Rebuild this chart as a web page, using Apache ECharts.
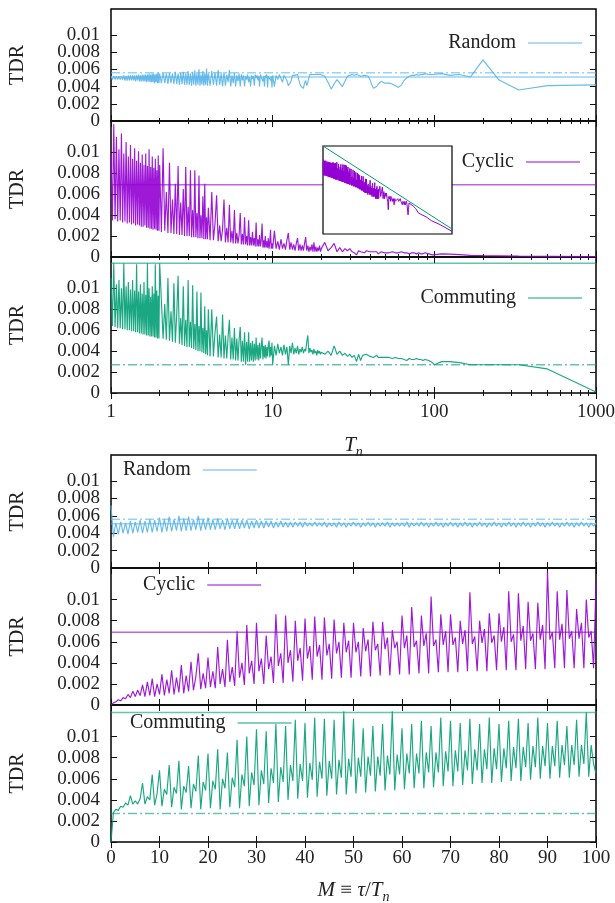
<!DOCTYPE html>
<html><head><meta charset="utf-8">
<script src="https://cdn.jsdelivr.net/npm/echarts@6/dist/echarts.min.js"></script>
<style>html,body{margin:0;padding:0;background:#fff}#c{width:615px;height:903px}</style>
</head><body><div id="c"></div>
<script>
// ---------------- DATA ----------------
// Upper block: x = T_n (log axis)
const topT = [
1.00,1.02,1.04,1.06,1.08,1.10,1.12,1.14,1.16,1.18,1.20,1.22,1.24,1.26,1.28,1.30,1.32,1.34,1.36,1.38,
1.40,1.42,1.44,1.46,1.48,1.50,1.52,1.54,1.56,1.58,1.60,1.62,1.64,1.66,1.68,1.70,1.72,1.74,1.76,1.78,
1.80,1.82,1.84,1.86,1.88,1.90,1.92,1.94,1.96,1.98,2.00,
2.05,2.10,2.15,2.20,2.25,2.30,2.35,2.40,2.45,2.50,2.55,2.60,2.65,2.70,2.75,2.80,2.85,2.90,2.95,3.00,
3.05,3.10,3.15,3.20,3.25,3.30,3.35,3.40,3.45,3.50,3.55,3.60,3.65,3.70,3.75,3.80,3.85,3.90,3.95,4.00,
4.1,4.2,4.3,4.4,4.5,4.6,4.7,4.8,4.9,5.0,5.1,5.2,5.3,5.4,5.5,5.6,5.7,5.8,5.9,6.0,
6.1,6.2,6.3,6.4,6.5,6.6,6.7,6.8,6.9,7.0,7.1,7.2,7.3,7.4,7.5,7.6,7.7,7.8,7.9,8.0,
8.1,8.2,8.3,8.4,8.5,8.6,8.7,8.8,8.9,9.0,9.1,9.2,9.3,9.4,9.5,9.6,9.7,9.8,9.9,10.0,
10.25,10.5,10.75,11,11.25,11.5,11.75,12,12.25,12.5,12.75,13,13.25,13.5,13.75,14,14.25,14.5,14.75,15,
15.25,15.5,15.75,16,16.25,16.5,16.75,17,17.25,17.5,17.75,18,18.25,18.5,18.75,19,19.25,19.5,19.75,20,
21,22,23,24,25,26,27,28,29,30,31,32,33,34,35,36,37,38,39,40,41,42,43,44,45,46,47,48,49,50,
52.5,55,57.5,60,62.5,65,67.5,70,72.5,75,77.5,80,82.5,85,87.5,90,92.5,95,97.5,100,
111,125,143,167,200,250,333,500,1000
];
const randomTop = [
.0052,.0048,.0052,.0048,.0052,.0048,.0052,.0048,.0052,.0048,.0053,.0047,.0052,.0047,.0053,.0047,.0053,.0047,.0053,.0047,
.0053,.0046,.0053,.0047,.0054,.0046,.0053,.0046,.0054,.0046,.0054,.0046,.0054,.0045,.0054,.0046,.0055,.0045,.0054,.0045,
.0055,.0045,.0055,.0044,.0054,.0045,.0055,.0044,.0056,.0044,.0055,
.0044,.0056,.0044,.0055,.0043,.0056,.0044,.0055,.0043,.0057,.0043,.0055,.0042,.0056,.0043,.0057,.0042,.0055,.0042,.0058,
.0042,.0055,.0041,.0057,.0042,.0059,.0041,.0055,.0042,.0060,.0041,.0054,.0042,.0058,.0041,.0055,.0042,.0061,.0041,.0055,
.0041,.0058,.0042,.0056,.0041,.0059,.0042,.0055,.0040,.0057,.0041,.0054,.0045,.0059,.0040,.0053,.0044,.0056,.0040,.0053,
.0046,.0055,.0040,.0054,.0047,.0053,.0040,.0052,.0048,.0054,.0045,.0051,.0040,.0053,.0049,.0052,.0041,.0054,.0050,.0053,
.0047,.0052,.0040,.0054,.0051,.0053,.0046,.0052,.0040,.0053,.0050,.0054,.0039,.0052,.0051,.0053,.0047,.0052,.0039,.0053,
.0040,.0053,.0048,.0054,.0052,.0045,.0053,.0054,.0047,.0041,.0039,.0046,.0053,.0054,.0053,.0052,.0054,.0048,.0043,.0040,
.0042,.0038,.0044,.0047,.0041,.0045,.0050,.0054,.0053,.0054,.0055,.0053,.0054,.0052,.0053,.0054,.0053,.0053,.0054,.0053,
.0052,.0045,.0037,.0043,.0048,.0044,.0040,.0046,.0052,.0053,.0054,.0053,.0054,.0053,.0052,.0054,.0053,.0054,.0052,.0048,
.0042,.0038,.0037,.0040,.0043,.0045,.0046,.0045,.0044,.0044,
.0044,.0043,.0041,.0039,.0042,.0047,.0050,.0052,.0053,.0053,.0054,.0053,.0054,.0054,.0055,.0054,.0054,.0055,.0054,.0054,
.0055,.0053,.0054,.0051,.0071,.0048,.0036,.0041,.0042
];
const cyclicTop = [
.0098,.0035,.0127,.0036,.0115,.0034,.0103,.0035,.0118,.0033,.0099,.0034,.0110,.0032,.0096,.0033,.0107,.0031,.0094,.0032,
.0104,.0030,.0092,.0031,.0101,.0030,.0090,.0029,.0098,.0029,.0088,.0030,.0099,.0028,.0087,.0028,.0103,.0027,.0086,.0027,
.0096,.0026,.0085,.0027,.0094,.0026,.0083,.0025,.0097,.0025,.0088,
.0024,.0104,.0025,.0062,.0023,.0090,.0023,.0055,.0022,.0070,.0022,.0087,.0021,.0052,.0021,.0065,.0020,.0086,.0020,.0048,
.0020,.0083,.0019,.0045,.0019,.0083,.0019,.0042,.0018,.0078,.0018,.0040,.0018,.0058,.0017,.0070,.0017,.0038,.0017,.0047,
.0016,.0062,.0016,.0032,.0059,.0015,.0030,.0015,.0027,.0055,.0014,.0028,.0014,.0050,.0014,.0025,.0013,.0045,.0013,.0023,
.0013,.0021,.0042,.0012,.0022,.0012,.0038,.0012,.0020,.0011,.0035,.0011,.0019,.0011,.0024,.0011,.0018,.0010,.0033,.0010,
.0017,.0010,.0021,.0010,.0016,.0032,.0009,.0016,.0009,.0020,.0009,.0015,.0009,.0018,.0008,.0014,.0026,.0008,.0013,.0008,
.0025,.0008,.0015,.0007,.0017,.0008,.0013,.0007,.0016,.0023,.0007,.0014,.0007,.0012,.0006,.0013,.0018,.0006,.0012,.0006,
.0011,.0006,.0013,.0019,.0006,.0011,.0005,.0010,.0006,.0012,.0005,.0014,.0005,.0010,.0005,.0009,.0006,.0011,.0005,.0008,
.0014,.0006,.0009,.0013,.0005,.0009,.0005,.0008,.0006,.0008,.0005,.0004,.0002,.0006,.0005,.0006,.0004,.0006,.0005,.0005,
.0004,.0005,.0004,.0005,.0003,.0004,.0005,.0004,.0004,.0004,
.0004,.0005,.0004,.0004,.0005,.0004,.0004,.0003,.0004,.0004,.0003,.0004,.0003,.0003,.0004,.0003,.0003,.00013,.0002,.00035,
.0003,.00027,.00022,.00015,.00013,.00011,.00008,.00006,.000033
];
const commutingTop = [
.0110,.0064,.0124,.0063,.0104,.0062,.0108,.0062,.0100,.0061,.0124,.0061,.0102,.0060,.0106,.0060,.0099,.0059,.0108,.0059,
.0098,.0058,.0123,.0058,.0097,.0057,.0104,.0057,.0095,.0056,.0106,.0056,.0094,.0055,.0124,.0055,.0100,.0054,.0092,.0054,
.0102,.0054,.0095,.0053,.0123,.0053,.0098,.0052,.0093,.0052,.0124,
.0088,.0052,.0085,.0051,.0110,.0050,.0078,.0049,.0105,.0048,.0075,.0112,.0047,.0072,.0046,.0102,.0045,.0070,.0044,.0108,
.0044,.0068,.0043,.0103,.0042,.0066,.0041,.0097,.0040,.0064,.0040,.0096,.0039,.0062,.0038,.0083,.0037,.0060,.0036,.0080,
.0035,.0080,.0035,.0058,.0073,.0034,.0056,.0034,.0075,.0033,.0055,.0033,.0054,.0070,.0032,.0053,.0032,.0062,.0031,.0052,
.0031,.0051,.0063,.0030,.0050,.0030,.0058,.0027,.0049,.0030,.0058,.0030,.0048,.0031,.0050,.0030,.0047,.0031,.0053,.0032,
.0046,.0031,.0048,.0033,.0045,.0053,.0032,.0045,.0034,.0046,.0033,.0044,.0035,.0046,.0050,.0034,.0044,.0036,.0048,.0027,
.0045,.0036,.0047,.0038,.0044,.0036,.0046,.0037,.0044,.0027,.0045,.0038,.0048,.0037,.0043,.0038,.0045,.0037,.0042,.0039,
.0044,.0038,.0042,.0040,.0049,.0055,.0038,.0043,.0039,.0041,.0037,.0042,.0038,.0040,.0036,.0041,.0038,.0040,.0037,.0039,
.0037,.0040,.0036,.0045,.0037,.0040,.0036,.0038,.0035,.0037,.0034,.0036,.0030,.0037,.0031,.0036,.0035,.0037,.0036,.0035,
.0036,.0034,.0035,.0036,.0034,.0035,.0034,.0035,.0034,.0034,
.0034,.0033,.0034,.0033,.0033,.0032,.0031,.0033,.0032,.0032,.0033,.0032,.0032,.0031,.0032,.0031,.0031,.0030,.0029,.0027,
.0030,.0030,.0029,.0027,.0027,.0027,.0027,.0023,.0001
];

// Lower block: x = M = tau / T_n (linear axis)
const botM = [
0,0.5,1,1.5,2,2.5,3,3.5,4,4.5,5,5.5,6,6.5,7,7.5,8,8.5,9,9.5,
10,10.5,11,11.5,12,12.5,13,13.5,14,14.5,15,15.5,16,16.5,17,17.5,18,18.5,19,19.5,
20,20.5,21,21.5,22,22.5,23,23.5,24,24.5,25,25.5,26,26.5,27,27.5,28,28.5,29,29.5,
30,30.5,31,31.5,32,32.5,33,33.5,34,34.5,35,35.5,36,36.5,37,37.5,38,38.5,39,39.5,
40,40.5,41,41.5,42,42.5,43,43.5,44,44.5,45,45.5,46,46.5,47,47.5,48,48.5,49,49.5,
50,50.5,51,51.5,52,52.5,53,53.5,54,54.5,55,55.5,56,56.5,57,57.5,58,58.5,59,59.5,
60,60.5,61,61.5,62,62.5,63,63.5,64,64.5,65,65.5,66,66.5,67,67.5,68,68.5,69,69.5,
70,70.5,71,71.5,72,72.5,73,73.5,74,74.5,75,75.5,76,76.5,77,77.5,78,78.5,79,79.5,
80,80.5,81,81.5,82,82.5,83,83.5,84,84.5,85,85.5,86,86.5,87,87.5,88,88.5,89,89.5,
90,90.5,91,91.5,92,92.5,93,93.5,94,94.5,95,95.5,96,96.5,97,97.5,98,98.5,99,99.5,
100
];
const randomBot = [
.0072,.0036,.0052,.0039,.0053,.0040,.0052,.0039,.0054,.0040,.0053,.0041,.0055,.0040,.0054,.0041,.0056,.0041,.0055,.0042,
.0058,.0041,.0056,.0042,.0059,.0042,.0056,.0043,.0060,.0042,.0057,.0043,.0059,.0043,.0056,.0044,.0060,.0043,.0056,.0044,
.0058,.0044,.0056,.0044,.0057,.0045,.0055,.0044,.0057,.0045,.0055,.0045,.0056,.0045,.0055,.0046,.0055,.0045,.0054,.0046,
.0055,.0046,.0054,.0046,.0054,.0047,.0054,.0046,.0053,.0047,.0054,.0047,.0053,.0047,.0053,.0047,.0053,.0048,.0053,.0047,
.0053,.0048,.0052,.0048,.0053,.0048,.0052,.0048,.0053,.0047,.0052,.0048,.0052,.0047,.0053,.0048,.0052,.0047,.0052,.0048,
.0053,.0048,.0052,.0047,.0052,.0048,.0053,.0048,.0052,.0047,.0052,.0048,.0052,.0048,.0053,.0047,.0052,.0048,.0052,.0048,
.0052,.0048,.0053,.0047,.0052,.0048,.0052,.0048,.0053,.0048,.0052,.0047,.0052,.0048,.0053,.0048,.0052,.0047,.0052,.0048,
.0053,.0048,.0052,.0047,.0052,.0048,.0053,.0048,.0052,.0047,.0052,.0048,.0053,.0048,.0052,.0047,.0052,.0048,.0053,.0048,
.0052,.0047,.0052,.0048,.0053,.0048,.0052,.0047,.0052,.0048,.0053,.0048,.0052,.0047,.0052,.0048,.0053,.0048,.0052,.0047,
.0052,.0048,.0053,.0048,.0052,.0047,.0052,.0048,.0053,.0048,.0052,.0047,.0052,.0048,.0053,.0048,.0052,.0047,.0052,.0048,
.0052
];
const cyclicBot = [
0,.0002,.0003,.0005,.0004,.0007,.0006,.0010,.0007,.0013,.0008,.0014,.0009,.0019,.0008,.0022,.0009,.0025,.0008,.0020,
.0010,.0029,.0009,.0024,.0011,.0033,.0010,.0026,.0012,.0038,.0011,.0028,.0013,.0041,.0014,.0027,.0049,.0015,.0030,.0016,
.0045,.0017,.0032,.0016,.0055,.0020,.0034,.0017,.0062,.0022,.0036,.0018,.0070,.0026,.0040,.0019,.0076,.0030,.0042,.0020,
.0078,.0032,.0044,.0020,.0066,.0034,.0046,.0021,.0086,.0037,.0049,.0021,.0085,.0040,.0052,.0022,.0080,.0042,.0054,.0023,
.0082,.0044,.0056,.0024,.0084,.0046,.0057,.0024,.0083,.0047,.0058,.0025,.0081,.0049,.0060,.0026,.0078,.0050,.0061,.0026,
.0078,.0050,.0060,.0027,.0073,.0051,.0062,.0027,.0079,.0052,.0058,.0028,.0079,.0053,.0064,.0028,.0071,.0054,.0060,.0029,
.0085,.0054,.0066,.0029,.0093,.0055,.0061,.0030,.0085,.0056,.0068,.0030,.0103,.0056,.0062,.0031,.0086,.0057,.0070,.0031,
.0086,.0057,.0064,.0031,.0080,.0058,.0071,.0032,.0107,.0058,.0065,.0032,.0080,.0059,.0072,.0032,.0087,.0059,.0066,.0033,
.0087,.0060,.0074,.0033,.0108,.0060,.0067,.0033,.0106,.0061,.0075,.0034,.0098,.0061,.0068,.0034,.0097,.0062,.0076,.0034,
.0127,.0062,.0069,.0035,.0108,.0062,.0077,.0035,.0109,.0063,.0070,.0035,.0091,.0063,.0078,.0035,.0100,.0064,.0070,.0035,
.0116
];
const commutingBot = [
0,.0028,.0031,.0030,.0034,.0033,.0037,.0035,.0044,.0036,.0039,.0036,.0041,.0056,.0036,.0043,.0040,.0064,.0035,.0046,
.0068,.0034,.0050,.0045,.0073,.0033,.0052,.0046,.0077,.0031,.0053,.0047,.0072,.0032,.0055,.0048,.0082,.0031,.0057,.0049,
.0084,.0032,.0058,.0050,.0088,.0031,.0060,.0051,.0085,.0033,.0061,.0052,.0097,.0032,.0064,.0053,.0100,.0034,.0066,.0054,
.0107,.0035,.0068,.0055,.0105,.0037,.0070,.0056,.0112,.0038,.0071,.0057,.0110,.0040,.0073,.0058,.0116,.0041,.0074,.0058,
.0113,.0042,.0075,.0059,.0118,.0043,.0076,.0060,.0117,.0044,.0077,.0060,.0116,.0045,.0078,.0061,.0124,.0045,.0079,.0062,
.0117,.0046,.0080,.0062,.0108,.0047,.0081,.0063,.0110,.0048,.0081,.0063,.0112,.0049,.0082,.0064,.0124,.0049,.0083,.0064,
.0108,.0050,.0084,.0065,.0112,.0051,.0084,.0065,.0115,.0051,.0085,.0066,.0110,.0052,.0085,.0066,.0118,.0053,.0086,.0067,
.0115,.0053,.0087,.0067,.0113,.0054,.0087,.0068,.0117,.0055,.0088,.0068,.0112,.0056,.0088,.0069,.0118,.0056,.0089,.0069,
.0112,.0057,.0089,.0070,.0115,.0058,.0090,.0070,.0117,.0058,.0090,.0071,.0113,.0059,.0091,.0071,.0118,.0060,.0091,.0072,
.0113,.0060,.0091,.0072,.0115,.0061,.0092,.0073,.0110,.0061,.0092,.0073,.0116,.0062,.0092,.0074,.0123,.0062,.0092,.0074,
.0065
];

// Horizontal reference levels
const refRandomSolid = 0.0051;
const refRandomDashDot = 0.0056;
const refCyclicSolid = 0.0069;
const refCommutingSolidTop = 0.0124;
const refCommutingSolidBot = 0.0123;
const refCommutingDashDot = 0.0027;

// Inset (log-log) reference power law
const insetRefT = [1, 1000];
const insetRefV = [0.04, 0.00004];

// Axis ticks and tick labels
const yTickValues = [0, 0.002, 0.004, 0.006, 0.008, 0.01];
const yLabelsEven = [0, 0.004, 0.008];
const yLabelsOdd = [0.002, 0.006, 0.01];
const logMajorTicks = [1, 10, 100, 1000];
const logMinorTicks = [2,3,4,5,6,7,8,9,20,30,40,50,60,70,80,90,200,300,400,500,600,700,800,900];
const linTicks = [0,10,20,30,40,50,60,70,80,90,100];
const topDomain = [1, 1000];
const botDomain = [0, 100];
const yMax = 0.013;

// ---------------- CHART ----------------
const FONT = '"Liberation Serif", "Times New Roman", serif';
const TXT = '#222';
const COL = { Random: '#56b4e9', Cyclic: '#9400d3', Commuting: '#009e73' };
const LEFT = 111, RIGHT = 19;
const DASHDOT = [9, 3, 2, 3];

const grids = [], xAxes = [], yAxes = [], series = [], legends = [];
const yLabel = v => (v === 0 ? '0' : String(parseFloat(Number(v).toFixed(3))));

const subRich = {
  i: { fontFamily: FONT, fontStyle: 'italic', fontSize: 21, color: TXT },
  r: { fontFamily: FONT, fontSize: 21, color: TXT },
  s: { fontFamily: FONT, fontStyle: 'italic', fontSize: 14, color: TXT, padding: [14, 0, 0, 0] }
};

const panels = [
  { top: 9,   height: 112, log: true,  name: 'Random',    xs: topT, ys: randomTop,
    refs: [[refRandomSolid, 'solid'], [refRandomDashDot, 'dashdot']],
    legend: { right: 33, top: 33 } },
  { top: 121, height: 136, log: true,  name: 'Cyclic',    xs: topT, ys: cyclicTop,
    refs: [[refCyclicSolid, 'solid']],
    legend: { right: 35, top: 152 } },
  { top: 257, height: 136, log: true,  name: 'Commuting', xs: topT, ys: commutingTop,
    refs: [[refCommutingSolidTop, 'solid'], [refCommutingDashDot, 'dashdot']],
    legend: { right: 33, top: 288 },
    xName: '{i|T}{s|n}', labelMargin: 10, nameGap: 38 },
  { top: 455, height: 113, log: false, name: 'Random',    xs: botM, ys: randomBot,
    refs: [[refRandomSolid, 'solid'], [refRandomDashDot, 'dashdot']],
    legend: { left: 123, top: 460 } },
  { top: 568, height: 137, log: false, name: 'Cyclic',    xs: botM, ys: cyclicBot,
    refs: [[refCyclicSolid, 'solid']],
    legend: { left: 143, top: 575 } },
  { top: 705, height: 137, log: false, name: 'Commuting', xs: botM, ys: commutingBot,
    refs: [[refCommutingSolidBot, 'solid'], [refCommutingDashDot, 'dashdot']],
    legend: { left: 130, top: 713 },
    xName: '{i|M} {r|\u2261} {i|\u03c4}{r|/}{i|T}{s|n}', labelMargin: 7, nameGap: 34 }
];

function tickAxis(base, pos, values, len, labels, p) {
  return Object.assign({}, base, {
    position: pos,
    axisLine: { show: false },
    splitLine: { show: false },
    axisTick: { show: true, inside: true, length: len, customValues: values, lineStyle: { color: '#111', width: 1 } },
    axisLabel: labels ? { show: true, customValues: values, formatter: v => String(v), margin: p.labelMargin,
                          showMinLabel: true, showMaxLabel: true, hideOverlap: false,
                          fontFamily: FONT, fontSize: 19, color: TXT } : { show: false },
    name: labels ? p.xName : '',
    nameLocation: 'middle',
    nameGap: labels ? p.nameGap : 0,
    nameTextStyle: { fontFamily: FONT, fontSize: 21, color: TXT, rich: subRich }
  });
}

function yLabelAxis(ybase, values) {
  return Object.assign({}, ybase, {
    position: 'left',
    axisTick: { show: false },
    axisLabel: { show: true, customValues: values, formatter: yLabel, margin: 11,
                 showMinLabel: true, showMaxLabel: true, hideOverlap: false,
                 fontFamily: FONT, fontSize: 19, color: TXT }
  });
}

panels.forEach(p => {
  const gi = grids.length;
  grids.push({ left: LEFT, right: RIGHT, top: p.top, height: p.height, show: true,
               borderColor: '#000', borderWidth: 1.5, backgroundColor: 'transparent',
               containLabel: false, outerBoundsMode: 'none' });
  const dom = p.log ? topDomain : botDomain;
  const base = { gridIndex: gi, type: p.log ? 'log' : 'value', min: dom[0], max: dom[1] };
  if (p.log) base.logBase = 10;
  const majors = p.log ? logMajorTicks : linTicks;
  const showX = !!p.xName;
  const xMain = xAxes.length;
  xAxes.push(tickAxis(base, 'bottom', majors, 6, showX, p));
  xAxes.push(tickAxis(base, 'top', majors, 6, false, p));
  if (p.log) {
    xAxes.push(tickAxis(base, 'bottom', logMinorTicks, 3, false, p));
    xAxes.push(tickAxis(base, 'top', logMinorTicks, 3, false, p));
  }
  const yMain = yAxes.length;
  const ybase = { gridIndex: gi, type: 'value', min: 0, max: yMax, splitLine: { show: false }, axisLine: { show: false } };
  // main left axis: ticks + axis title
  yAxes.push(Object.assign({}, ybase, {
    position: 'left',
    axisTick: { show: true, inside: true, length: 6, customValues: yTickValues, lineStyle: { color: '#111' } },
    axisLabel: { show: false },
    name: 'TDR', nameLocation: 'middle', nameGap: 83, nameRotate: 90,
    nameTextStyle: { fontFamily: FONT, fontSize: 20, color: TXT }
  }));
  // tick labels split over two overlaid axes so none is dropped as overlapping
  yAxes.push(yLabelAxis(ybase, yLabelsEven));
  yAxes.push(yLabelAxis(ybase, yLabelsOdd));
  yAxes.push(Object.assign({}, ybase, {
    position: 'right',
    axisTick: { show: true, inside: true, length: 6, customValues: yTickValues, lineStyle: { color: '#111' } },
    axisLabel: { show: false }
  }));
  const color = COL[p.name];
  series.push({
    type: 'line', name: p.name, xAxisIndex: xMain, yAxisIndex: yMain,
    data: p.xs.map((x, i) => [x, p.ys[i]]),
    showSymbol: false, symbol: 'none', silent: true, z: 3,
    itemStyle: { color: color },
    lineStyle: { width: 1.15, color: color, opacity: 0.9 }
  });
  p.refs.forEach(([v, kind], k) => {
    series.push({
      type: 'line', name: p.name + ' level ' + (k + 1), xAxisIndex: xMain, yAxisIndex: yMain,
      data: [[dom[0], v], [dom[1], v]],
      showSymbol: false, symbol: 'none', silent: true, z: 2,
      lineStyle: { width: 1.5, color: color, opacity: 0.6, type: kind === 'dashdot' ? DASHDOT : 'solid' }
    });
  });
  legends.push(Object.assign({
    data: [p.name], orient: 'horizontal', align: 'right', icon: 'rect',
    itemWidth: 54, itemHeight: 1.5, itemGap: 0, padding: 0, selectedMode: false,
    itemStyle: { opacity: 0.65 },
    textStyle: { fontFamily: FONT, fontSize: 20, color: TXT, padding: [0, 7, 0, 0] }
  }, p.legend));
});

// Inset: log-log view of the cyclic data with a power-law guide
const insetGrid = grids.length;
grids.push({ left: 323, top: 146, width: 129, height: 88, show: true, z: 10,
             borderColor: '#000', borderWidth: 1.2, backgroundColor: '#fff',
             containLabel: false, outerBoundsMode: 'none' });
const insetX = xAxes.length;
xAxes.push({ gridIndex: insetGrid, type: 'log', logBase: 10, min: 1, max: 1000, show: false });
const insetY = yAxes.length;
yAxes.push({ gridIndex: insetGrid, type: 'log', logBase: 10, min: 0.0000264, max: 0.04, show: false });
series.push({
  type: 'line', name: 'Cyclic inset', xAxisIndex: insetX, yAxisIndex: insetY,
  data: topT.map((t, i) => [t, cyclicTop[i]]),
  showSymbol: false, symbol: 'none', silent: true, z: 12,
  lineStyle: { width: 1, color: COL.Cyclic }
});
series.push({
  type: 'line', name: 'Guide inset', xAxisIndex: insetX, yAxisIndex: insetY,
  data: insetRefT.map((t, i) => [t, insetRefV[i]]),
  showSymbol: false, symbol: 'none', silent: true, z: 11,
  lineStyle: { width: 1, color: COL.Commuting }
});

const chart = echarts.init(document.getElementById('c'), null, { renderer: 'canvas', width: 615, height: 903 });
chart.setOption({
  animation: false,
  backgroundColor: '#fff',
  textStyle: { fontFamily: FONT },
  grid: grids,
  xAxis: xAxes,
  yAxis: yAxes,
  legend: legends,
  series: series
});
</script>
</body></html>
